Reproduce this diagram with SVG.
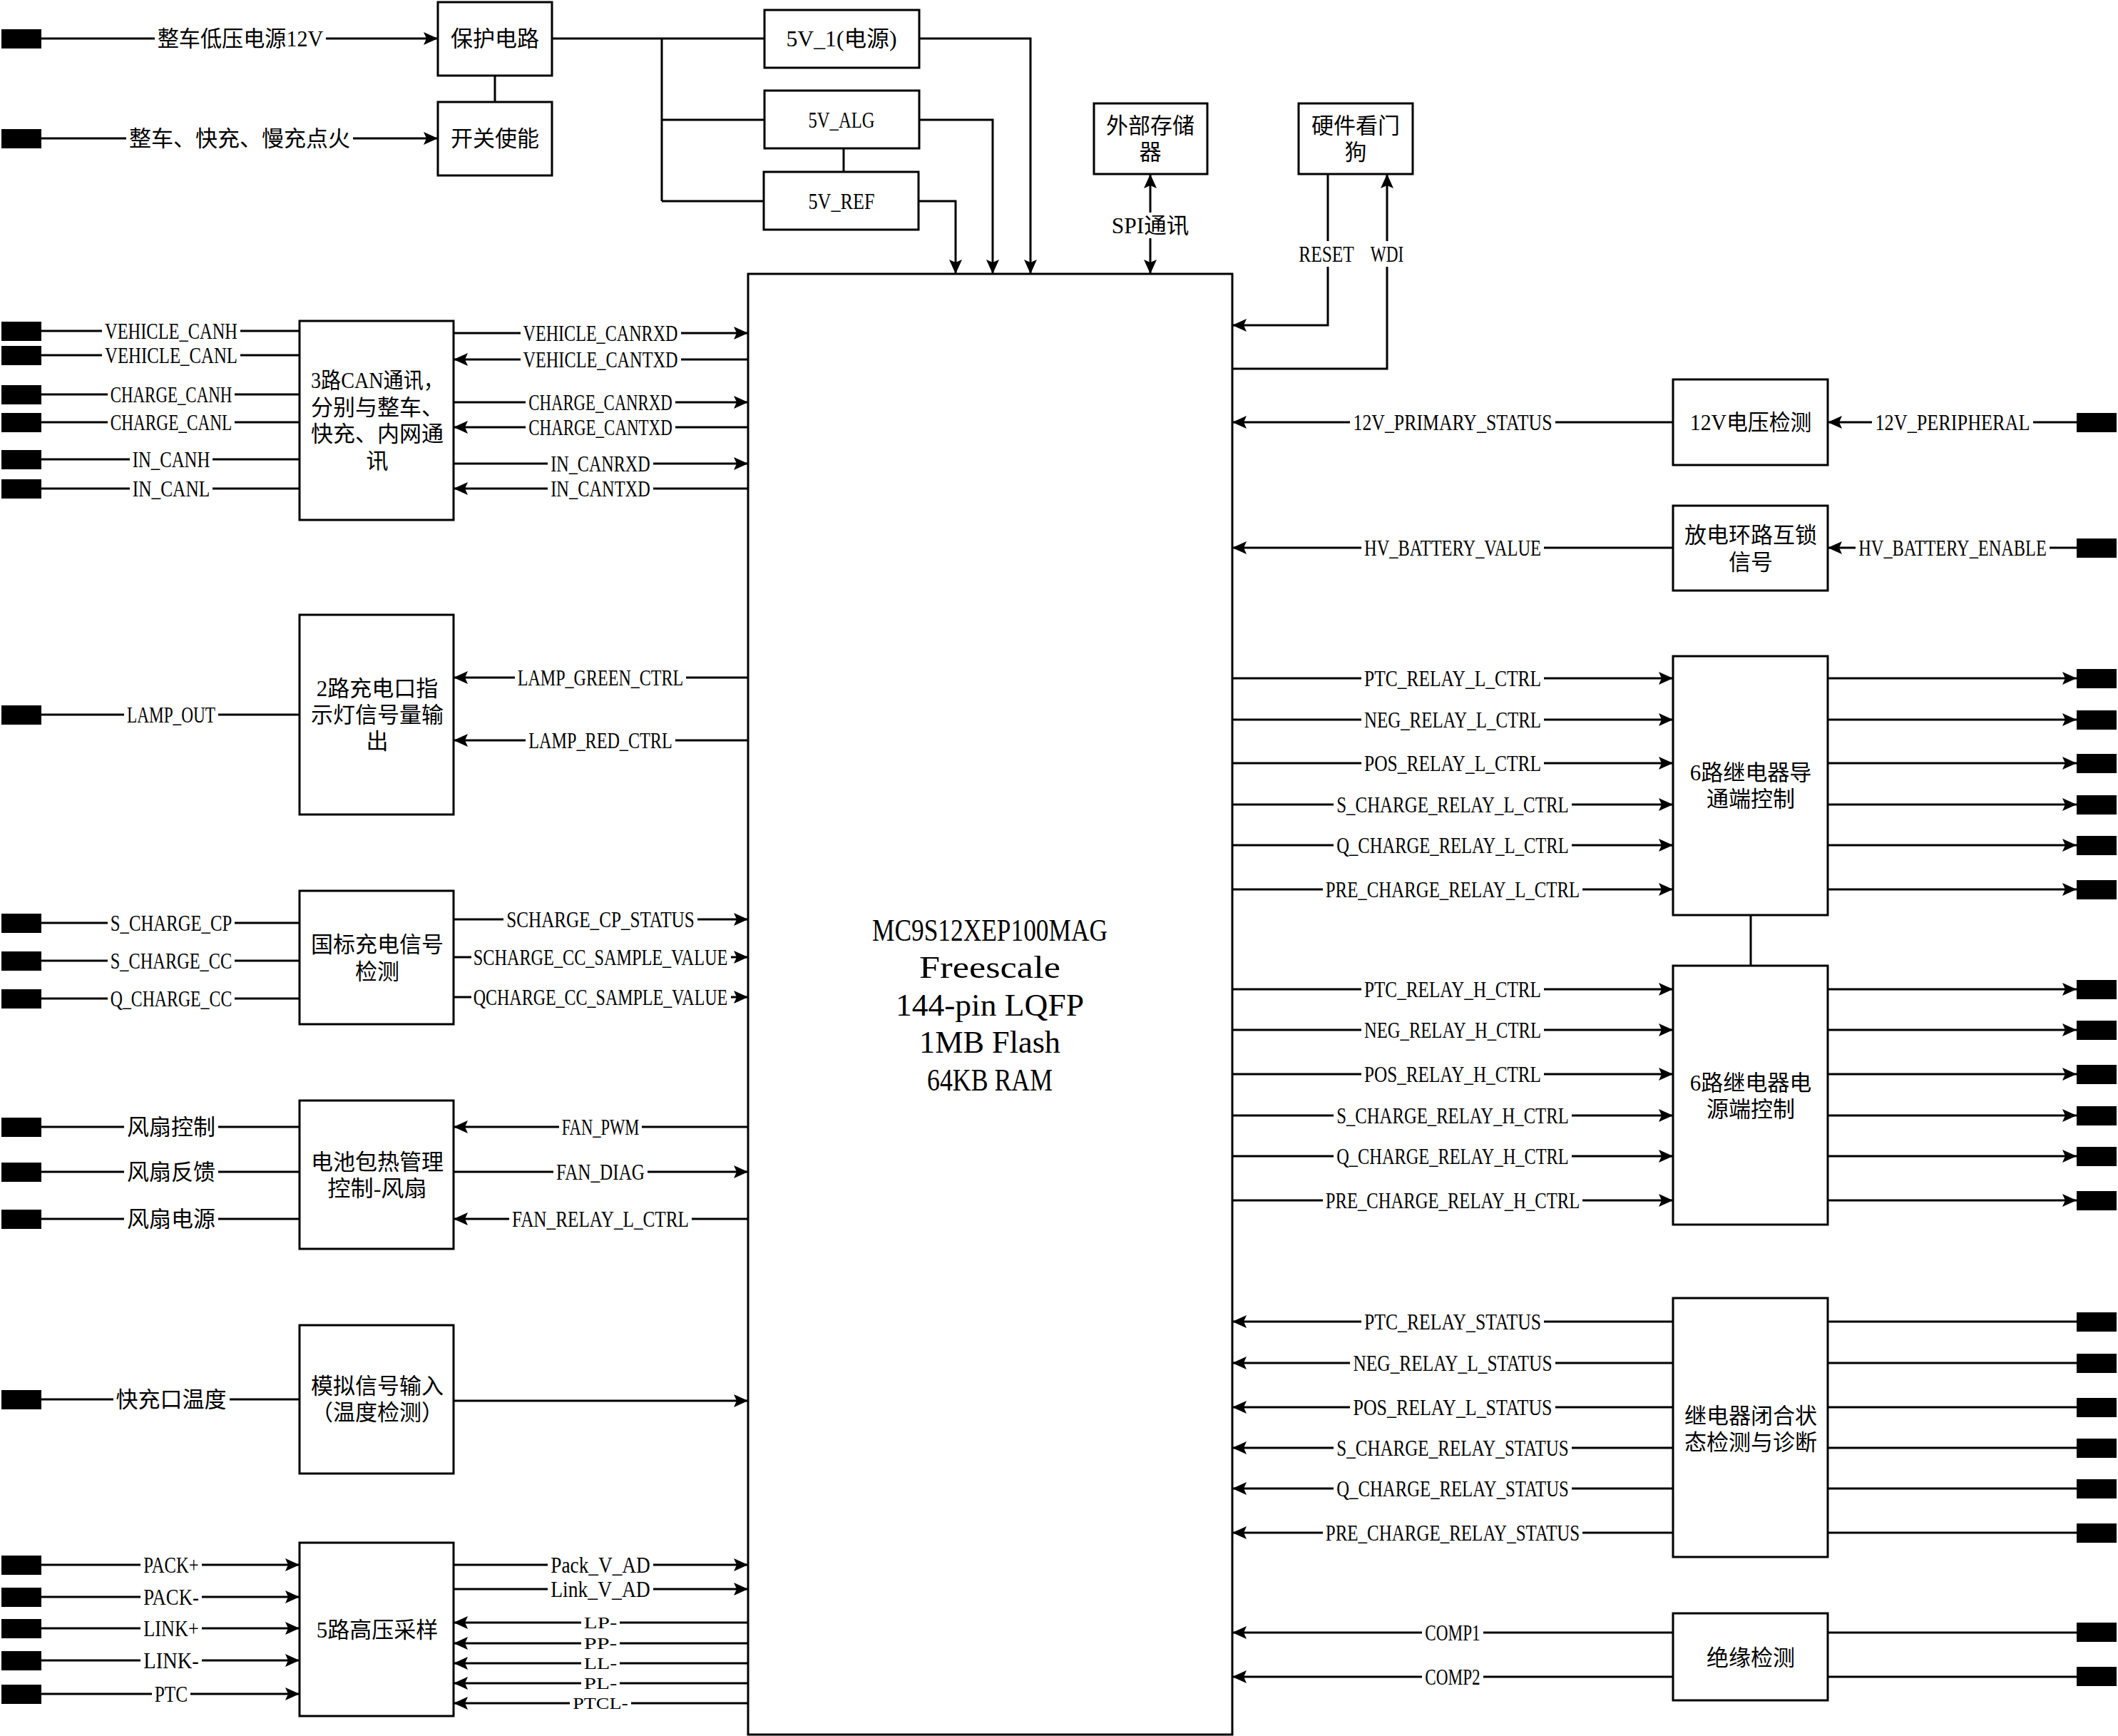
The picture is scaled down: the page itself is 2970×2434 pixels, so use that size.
<svg xmlns="http://www.w3.org/2000/svg" width="2970" height="2434" viewBox="0 0 2970 2434">
<style>
.ln{fill:none;stroke:#000;stroke-width:3}
.ea{marker-end:url(#a)}
.da{marker-start:url(#a);marker-end:url(#a)}
.bx{fill:#fff;stroke:#000;stroke-width:3}
.tm{fill:#000}
.lb{fill:#fff}
.t{font-family:"Liberation Serif","Noto Sans CJK SC",serif;font-size:31px;fill:#000;text-anchor:middle;dominant-baseline:central}
.sm{font-size:24px}
.big{font-family:"Liberation Serif","Noto Sans CJK SC",serif;font-size:44px;fill:#000;text-anchor:middle;dominant-baseline:central}
</style>
<defs>
<marker id="a" markerWidth="20" markerHeight="18" refX="20" refY="9" orient="auto-start-reverse" markerUnits="userSpaceOnUse"><path d="M0,0 L20,9 L0,18 L4,9 z" fill="#000"/></marker>
</defs>
<rect width="2970" height="2434" fill="#fff"/>

<g id="nodes">
<g id="mcu"><rect class="bx" x="1049" y="384" width="679" height="2048"/>
<text class="big" x="1388" y="1304" textLength="330" lengthAdjust="spacingAndGlyphs">MC9S12XEP100MAG</text>
<text class="big" x="1388" y="1356" textLength="198" lengthAdjust="spacingAndGlyphs">Freescale</text>
<text class="big" x="1388" y="1409" textLength="264" lengthAdjust="spacingAndGlyphs">144-pin LQFP</text>
<text class="big" x="1388" y="1461" textLength="198" lengthAdjust="spacingAndGlyphs">1MB Flash</text>
<text class="big" x="1388" y="1514" textLength="176" lengthAdjust="spacingAndGlyphs">64KB RAM</text></g>
<g id="protect"><rect class="bx" x="614" y="3" width="160" height="103"/><text class="t" x="694" y="54" textLength="124" lengthAdjust="spacingAndGlyphs">保护电路</text></g>
<g id="switch"><rect class="bx" x="614" y="143" width="160" height="103"/><text class="t" x="694" y="194" textLength="124" lengthAdjust="spacingAndGlyphs">开关使能</text></g>
<g id="v5_1"><rect class="bx" x="1072" y="14" width="217" height="81"/><text class="t" x="1180" y="54" textLength="155" lengthAdjust="spacingAndGlyphs">5V_1(电源)</text></g>
<g id="v5_alg"><rect class="bx" x="1072" y="127" width="217" height="81"/><text class="t" x="1180" y="168" textLength="93" lengthAdjust="spacingAndGlyphs">5V_ALG</text></g>
<g id="v5_ref"><rect class="bx" x="1071" y="241" width="217" height="81"/><text class="t" x="1180" y="282" textLength="93" lengthAdjust="spacingAndGlyphs">5V_REF</text></g>
<g id="extmem"><rect class="bx" x="1534" y="145" width="159" height="99"/><text class="t" x="1613" y="176" textLength="124" lengthAdjust="spacingAndGlyphs">外部存储</text><text class="t" x="1613" y="213" textLength="31" lengthAdjust="spacingAndGlyphs">器</text></g>
<g id="wdog"><rect class="bx" x="1821" y="145" width="160" height="99"/><text class="t" x="1901" y="176" textLength="124" lengthAdjust="spacingAndGlyphs">硬件看门</text><text class="t" x="1901" y="213" textLength="31" lengthAdjust="spacingAndGlyphs">狗</text></g>
<g id="can"><rect class="bx" x="420" y="450" width="216" height="279"/>
<text class="t" x="529" y="533" textLength="186" lengthAdjust="spacingAndGlyphs">3路CAN通讯，</text>
<text class="t" x="529" y="571" textLength="186" lengthAdjust="spacingAndGlyphs">分别与整车、</text>
<text class="t" x="529" y="608" textLength="186" lengthAdjust="spacingAndGlyphs">快充、内网通</text>
<text class="t" x="529" y="646" textLength="31" lengthAdjust="spacingAndGlyphs">讯</text></g>
<g id="lamp"><rect class="bx" x="420" y="862" width="216" height="280"/>
<text class="t" x="529" y="965" textLength="170.5" lengthAdjust="spacingAndGlyphs">2路充电口指</text>
<text class="t" x="529" y="1002" textLength="186" lengthAdjust="spacingAndGlyphs">示灯信号量输</text>
<text class="t" x="529" y="1039" textLength="31" lengthAdjust="spacingAndGlyphs">出</text></g>
<g id="gb"><rect class="bx" x="420" y="1249" width="216" height="187"/>
<text class="t" x="529" y="1324" textLength="186" lengthAdjust="spacingAndGlyphs">国标充电信号</text>
<text class="t" x="529" y="1362" textLength="62" lengthAdjust="spacingAndGlyphs">检测</text></g>
<g id="fan"><rect class="bx" x="420" y="1543" width="216" height="208"/>
<text class="t" x="529" y="1629" textLength="186" lengthAdjust="spacingAndGlyphs">电池包热管理</text>
<text class="t" x="529" y="1666" textLength="139.5" lengthAdjust="spacingAndGlyphs">控制-风扇</text></g>
<g id="analog"><rect class="bx" x="420" y="1858" width="216" height="208"/>
<text class="t" x="529" y="1943" textLength="186" lengthAdjust="spacingAndGlyphs">模拟信号输入</text>
<text class="t" x="529" y="1980" textLength="186" lengthAdjust="spacingAndGlyphs">（温度检测）</text></g>
<g id="hv"><rect class="bx" x="420" y="2163" width="216" height="243"/>
<text class="t" x="529" y="2285" textLength="170.5" lengthAdjust="spacingAndGlyphs">5路高压采样</text></g>
<g id="v12"><rect class="bx" x="2346" y="532" width="217" height="120"/>
<text class="t" x="2455" y="592" textLength="170.5" lengthAdjust="spacingAndGlyphs">12V电压检测</text></g>
<g id="interlock"><rect class="bx" x="2346" y="709" width="217" height="119"/>
<text class="t" x="2455" y="750" textLength="186" lengthAdjust="spacingAndGlyphs">放电环路互锁</text>
<text class="t" x="2455" y="788" textLength="62" lengthAdjust="spacingAndGlyphs">信号</text></g>
<g id="relayL"><rect class="bx" x="2346" y="920" width="217" height="363"/>
<text class="t" x="2455" y="1083" textLength="170.5" lengthAdjust="spacingAndGlyphs">6路继电器导</text>
<text class="t" x="2455" y="1120" textLength="124" lengthAdjust="spacingAndGlyphs">通端控制</text></g>
<g id="relayH"><rect class="bx" x="2346" y="1354" width="217" height="363"/>
<text class="t" x="2455" y="1518" textLength="170.5" lengthAdjust="spacingAndGlyphs">6路继电器电</text>
<text class="t" x="2455" y="1555" textLength="124" lengthAdjust="spacingAndGlyphs">源端控制</text></g>
<g id="status"><rect class="bx" x="2346" y="1820" width="217" height="363"/>
<text class="t" x="2455" y="1985" textLength="186" lengthAdjust="spacingAndGlyphs">继电器闭合状</text>
<text class="t" x="2455" y="2022" textLength="186" lengthAdjust="spacingAndGlyphs">态检测与诊断</text></g>
<g id="insul"><rect class="bx" x="2346" y="2262" width="217" height="122"/>
<text class="t" x="2455" y="2324" textLength="124" lengthAdjust="spacingAndGlyphs">绝缘检测</text></g>
<g id="terminals">
<rect class="tm" x="2" y="41" width="56" height="27"/>
<rect class="tm" x="2" y="181" width="56" height="27"/>
<rect class="tm" x="2" y="451" width="56" height="27"/>
<rect class="tm" x="2" y="485" width="56" height="27"/>
<rect class="tm" x="2" y="540" width="56" height="27"/>
<rect class="tm" x="2" y="579" width="56" height="27"/>
<rect class="tm" x="2" y="631" width="56" height="27"/>
<rect class="tm" x="2" y="672" width="56" height="27"/>
<rect class="tm" x="2" y="989" width="56" height="27"/>
<rect class="tm" x="2" y="1281" width="56" height="27"/>
<rect class="tm" x="2" y="1334" width="56" height="27"/>
<rect class="tm" x="2" y="1387" width="56" height="27"/>
<rect class="tm" x="2" y="1567" width="56" height="27"/>
<rect class="tm" x="2" y="1630" width="56" height="27"/>
<rect class="tm" x="2" y="1696" width="56" height="27"/>
<rect class="tm" x="2" y="1949" width="56" height="27"/>
<rect class="tm" x="2" y="2181" width="56" height="27"/>
<rect class="tm" x="2" y="2226" width="56" height="27"/>
<rect class="tm" x="2" y="2270" width="56" height="27"/>
<rect class="tm" x="2" y="2315" width="56" height="27"/>
<rect class="tm" x="2" y="2362" width="56" height="27"/>
<rect class="tm" x="2912" y="579" width="56" height="27"/>
<rect class="tm" x="2912" y="755" width="56" height="27"/>
<rect class="tm" x="2912" y="938" width="56" height="27"/>
<rect class="tm" x="2912" y="996" width="56" height="27"/>
<rect class="tm" x="2912" y="1057" width="56" height="27"/>
<rect class="tm" x="2912" y="1115" width="56" height="27"/>
<rect class="tm" x="2912" y="1172" width="56" height="27"/>
<rect class="tm" x="2912" y="1234" width="56" height="27"/>
<rect class="tm" x="2912" y="1374" width="56" height="27"/>
<rect class="tm" x="2912" y="1431" width="56" height="27"/>
<rect class="tm" x="2912" y="1493" width="56" height="27"/>
<rect class="tm" x="2912" y="1551" width="56" height="27"/>
<rect class="tm" x="2912" y="1608" width="56" height="27"/>
<rect class="tm" x="2912" y="1670" width="56" height="27"/>
<rect class="tm" x="2912" y="1840" width="56" height="27"/>
<rect class="tm" x="2912" y="1898" width="56" height="27"/>
<rect class="tm" x="2912" y="1960" width="56" height="27"/>
<rect class="tm" x="2912" y="2017" width="56" height="27"/>
<rect class="tm" x="2912" y="2074" width="56" height="27"/>
<rect class="tm" x="2912" y="2136" width="56" height="27"/>
<rect class="tm" x="2912" y="2275" width="56" height="27"/>
<rect class="tm" x="2912" y="2337" width="56" height="27"/>
</g>
</g>

<g id="connectors">
<path class="ln ea" d="M58,54 H614"/>
<path class="ln ea" d="M58,194 H614"/>
<path class="ln" d="M694,106 V143"/>
<path class="ln" d="M774,54 H1072 M928,54 V282 M928,168 H1072 M928,282 H1071"/>
<path class="ln" d="M1183,208 V241"/>
<path class="ln ea" d="M1289,54 H1445 V384"/>
<path class="ln ea" d="M1289,168 H1392 V384"/>
<path class="ln ea" d="M1288,282 H1340 V384"/>
<path class="ln da" d="M1613,244 V384"/>
<path class="ln ea" d="M1862,244 V456 H1728"/>
<path class="ln ea" d="M1728,517 H1945 V244"/>
<path class="ln" d="M58,464 H420 M58,498 H420 M58,553 H420 M58,592 H420 M58,644 H420 M58,685 H420 M58,1002 H420 M58,1294 H420 M58,1347 H420 M58,1400 H420 M58,1580 H420 M58,1643 H420 M58,1709 H420 M58,1962 H420"/>
<path class="ln ea" d="M58,2194 H420"/>
<path class="ln ea" d="M58,2239 H420"/>
<path class="ln ea" d="M58,2283 H420"/>
<path class="ln ea" d="M58,2328 H420"/>
<path class="ln ea" d="M58,2375 H420"/>
<path class="ln ea" d="M636,467 H1049"/>
<path class="ln ea" d="M1049,504 H636"/>
<path class="ln ea" d="M636,564 H1049"/>
<path class="ln ea" d="M1049,599 H636"/>
<path class="ln ea" d="M636,650 H1049"/>
<path class="ln ea" d="M1049,685 H636"/>
<path class="ln ea" d="M1049,950 H636"/>
<path class="ln ea" d="M1049,1038 H636"/>
<path class="ln ea" d="M636,1289 H1049"/>
<path class="ln ea" d="M636,1342 H1049"/>
<path class="ln ea" d="M636,1398 H1049"/>
<path class="ln ea" d="M1049,1580 H636"/>
<path class="ln ea" d="M636,1643 H1049"/>
<path class="ln ea" d="M1049,1709 H636"/>
<path class="ln ea" d="M636,1964 H1049"/>
<path class="ln ea" d="M636,2194 H1049"/>
<path class="ln ea" d="M636,2228 H1049"/>
<path class="ln ea" d="M1049,2275 H636"/>
<path class="ln ea" d="M1049,2304 H636"/>
<path class="ln ea" d="M1049,2332 H636"/>
<path class="ln ea" d="M1049,2360 H636"/>
<path class="ln ea" d="M1049,2388 H636"/>
<path class="ln ea" d="M2346,592 H1728"/>
<path class="ln ea" d="M2346,768 H1728"/>
<path class="ln ea" d="M2912,592 H2563"/>
<path class="ln ea" d="M2912,768 H2563"/>
<path class="ln ea" d="M1728,951 H2346"/>
<path class="ln ea" d="M1728,1009 H2346"/>
<path class="ln ea" d="M1728,1070 H2346"/>
<path class="ln ea" d="M1728,1128 H2346"/>
<path class="ln ea" d="M1728,1185 H2346"/>
<path class="ln ea" d="M1728,1247 H2346"/>
<path class="ln ea" d="M2563,951 H2912"/>
<path class="ln ea" d="M2563,1009 H2912"/>
<path class="ln ea" d="M2563,1070 H2912"/>
<path class="ln ea" d="M2563,1128 H2912"/>
<path class="ln ea" d="M2563,1185 H2912"/>
<path class="ln ea" d="M2563,1247 H2912"/>
<path class="ln" d="M2455,1283 V1354"/>
<path class="ln ea" d="M1728,1387 H2346"/>
<path class="ln ea" d="M1728,1444 H2346"/>
<path class="ln ea" d="M1728,1506 H2346"/>
<path class="ln ea" d="M1728,1564 H2346"/>
<path class="ln ea" d="M1728,1621 H2346"/>
<path class="ln ea" d="M1728,1683 H2346"/>
<path class="ln ea" d="M2563,1387 H2912"/>
<path class="ln ea" d="M2563,1444 H2912"/>
<path class="ln ea" d="M2563,1506 H2912"/>
<path class="ln ea" d="M2563,1564 H2912"/>
<path class="ln ea" d="M2563,1621 H2912"/>
<path class="ln ea" d="M2563,1683 H2912"/>
<path class="ln ea" d="M2346,1853 H1728"/>
<path class="ln ea" d="M2346,1911 H1728"/>
<path class="ln ea" d="M2346,1973 H1728"/>
<path class="ln ea" d="M2346,2030 H1728"/>
<path class="ln ea" d="M2346,2087 H1728"/>
<path class="ln ea" d="M2346,2149 H1728"/>
<path class="ln" d="M2563,1853 H2912 M2563,1911 H2912 M2563,1973 H2912 M2563,2030 H2912 M2563,2087 H2912 M2563,2149 H2912"/>
<path class="ln ea" d="M2346,2289 H1728"/>
<path class="ln ea" d="M2346,2351 H1728"/>
<path class="ln" d="M2563,2289 H2912 M2563,2351 H2912"/>

<g id="labels">
<rect class="lb" x="217" y="49" width="240" height="10"/><text class="t" x="337" y="54" textLength="232.5" lengthAdjust="spacingAndGlyphs">整车低压电源12V</text>
<rect class="lb" x="177" y="189" width="318" height="10"/><text class="t" x="336" y="194" textLength="310" lengthAdjust="spacingAndGlyphs">整车、快充、慢充点火</text>
<rect class="lb" x="1555" y="298" width="116" height="36"/><text class="t" x="1613" y="316" textLength="108.5" lengthAdjust="spacingAndGlyphs">SPI通讯</text>
<rect class="lb" x="1818" y="338" width="84" height="36"/><text class="t" x="1860" y="356" textLength="77.5" lengthAdjust="spacingAndGlyphs">RESET</text>
<rect class="lb" x="1918" y="338" width="54" height="36"/><text class="t" x="1945" y="356" textLength="46.5" lengthAdjust="spacingAndGlyphs">WDI</text>

<rect class="lb" x="143" y="459" width="194" height="10"/><text class="t" x="240" y="464" textLength="186" lengthAdjust="spacingAndGlyphs">VEHICLE_CANH</text>
<rect class="lb" x="143" y="493" width="194" height="10"/><text class="t" x="240" y="498" textLength="186" lengthAdjust="spacingAndGlyphs">VEHICLE_CANL</text>
<rect class="lb" x="151" y="548" width="178" height="10"/><text class="t" x="240" y="553" textLength="170.5" lengthAdjust="spacingAndGlyphs">CHARGE_CANH</text>
<rect class="lb" x="151" y="587" width="178" height="10"/><text class="t" x="240" y="592" textLength="170.5" lengthAdjust="spacingAndGlyphs">CHARGE_CANL</text>
<rect class="lb" x="182" y="639" width="116" height="10"/><text class="t" x="240" y="644" textLength="108.5" lengthAdjust="spacingAndGlyphs">IN_CANH</text>
<rect class="lb" x="182" y="680" width="116" height="10"/><text class="t" x="240" y="685" textLength="108.5" lengthAdjust="spacingAndGlyphs">IN_CANL</text>
<rect class="lb" x="174" y="997" width="132" height="10"/><text class="t" x="240" y="1002" textLength="124" lengthAdjust="spacingAndGlyphs">LAMP_OUT</text>
<rect class="lb" x="151" y="1289" width="178" height="10"/><text class="t" x="240" y="1294" textLength="170.5" lengthAdjust="spacingAndGlyphs">S_CHARGE_CP</text>
<rect class="lb" x="151" y="1342" width="178" height="10"/><text class="t" x="240" y="1347" textLength="170.5" lengthAdjust="spacingAndGlyphs">S_CHARGE_CC</text>
<rect class="lb" x="151" y="1395" width="178" height="10"/><text class="t" x="240" y="1400" textLength="170.5" lengthAdjust="spacingAndGlyphs">Q_CHARGE_CC</text>
<rect class="lb" x="174" y="1575" width="132" height="10"/><text class="t" x="240" y="1580" textLength="124" lengthAdjust="spacingAndGlyphs">风扇控制</text>
<rect class="lb" x="174" y="1638" width="132" height="10"/><text class="t" x="240" y="1643" textLength="124" lengthAdjust="spacingAndGlyphs">风扇反馈</text>
<rect class="lb" x="174" y="1704" width="132" height="10"/><text class="t" x="240" y="1709" textLength="124" lengthAdjust="spacingAndGlyphs">风扇电源</text>
<rect class="lb" x="159" y="1957" width="163" height="10"/><text class="t" x="240" y="1962" textLength="155" lengthAdjust="spacingAndGlyphs">快充口温度</text>
<rect class="lb" x="197" y="2189" width="86" height="10"/><text class="t" x="240" y="2194" textLength="77.5" lengthAdjust="spacingAndGlyphs">PACK+</text>
<rect class="lb" x="197" y="2234" width="86" height="10"/><text class="t" x="240" y="2239" textLength="77.5" lengthAdjust="spacingAndGlyphs">PACK-</text>
<rect class="lb" x="197" y="2278" width="86" height="10"/><text class="t" x="240" y="2283" textLength="77.5" lengthAdjust="spacingAndGlyphs">LINK+</text>
<rect class="lb" x="197" y="2323" width="86" height="10"/><text class="t" x="240" y="2328" textLength="77.5" lengthAdjust="spacingAndGlyphs">LINK-</text>
<rect class="lb" x="213" y="2370" width="54" height="10"/><text class="t" x="240" y="2375" textLength="46.5" lengthAdjust="spacingAndGlyphs">PTC</text>

<rect class="lb" x="730" y="462" width="225" height="10"/><text class="t" x="842" y="467" textLength="217" lengthAdjust="spacingAndGlyphs">VEHICLE_CANRXD</text>
<rect class="lb" x="730" y="499" width="225" height="10"/><text class="t" x="842" y="504" textLength="217" lengthAdjust="spacingAndGlyphs">VEHICLE_CANTXD</text>
<rect class="lb" x="737" y="559" width="210" height="10"/><text class="t" x="842" y="564" textLength="201.5" lengthAdjust="spacingAndGlyphs">CHARGE_CANRXD</text>
<rect class="lb" x="737" y="594" width="210" height="10"/><text class="t" x="842" y="599" textLength="201.5" lengthAdjust="spacingAndGlyphs">CHARGE_CANTXD</text>
<rect class="lb" x="768" y="645" width="148" height="10"/><text class="t" x="842" y="650" textLength="139.5" lengthAdjust="spacingAndGlyphs">IN_CANRXD</text>
<rect class="lb" x="768" y="680" width="148" height="10"/><text class="t" x="842" y="685" textLength="139.5" lengthAdjust="spacingAndGlyphs">IN_CANTXD</text>
<rect class="lb" x="722" y="945" width="240" height="10"/><text class="t" x="842" y="950" textLength="232.5" lengthAdjust="spacingAndGlyphs">LAMP_GREEN_CTRL</text>
<rect class="lb" x="737" y="1033" width="210" height="10"/><text class="t" x="842" y="1038" textLength="201.5" lengthAdjust="spacingAndGlyphs">LAMP_RED_CTRL</text>
<rect class="lb" x="706" y="1284" width="272" height="10"/><text class="t" x="842" y="1289" textLength="263.5" lengthAdjust="spacingAndGlyphs">SCHARGE_CP_STATUS</text>
<rect class="lb" x="661" y="1337" width="364" height="10"/><text class="t" x="842" y="1342" textLength="356.5" lengthAdjust="spacingAndGlyphs">SCHARGE_CC_SAMPLE_VALUE</text>
<rect class="lb" x="661" y="1393" width="364" height="10"/><text class="t" x="842" y="1398" textLength="356.5" lengthAdjust="spacingAndGlyphs">QCHARGE_CC_SAMPLE_VALUE</text>
<rect class="lb" x="784" y="1575" width="116" height="10"/><text class="t" x="842" y="1580" textLength="108.5" lengthAdjust="spacingAndGlyphs">FAN_PWM</text>
<rect class="lb" x="776" y="1638" width="132" height="10"/><text class="t" x="842" y="1643" textLength="124" lengthAdjust="spacingAndGlyphs">FAN_DIAG</text>
<rect class="lb" x="714" y="1704" width="256" height="10"/><text class="t" x="842" y="1709" textLength="248" lengthAdjust="spacingAndGlyphs">FAN_RELAY_L_CTRL</text>
<rect class="lb" x="768" y="2189" width="148" height="10"/><text class="t" x="842" y="2194" textLength="139.5" lengthAdjust="spacingAndGlyphs">Pack_V_AD</text>
<rect class="lb" x="768" y="2223" width="148" height="10"/><text class="t" x="842" y="2228" textLength="139.5" lengthAdjust="spacingAndGlyphs">Link_V_AD</text>
<rect class="lb" x="815" y="2270" width="54" height="10"/><text class="t sm" x="842" y="2275" textLength="46.5" lengthAdjust="spacingAndGlyphs">LP-</text>
<rect class="lb" x="815" y="2299" width="54" height="10"/><text class="t sm" x="842" y="2304" textLength="46.5" lengthAdjust="spacingAndGlyphs">PP-</text>
<rect class="lb" x="815" y="2327" width="54" height="10"/><text class="t sm" x="842" y="2332" textLength="46.5" lengthAdjust="spacingAndGlyphs">LL-</text>
<rect class="lb" x="815" y="2355" width="54" height="10"/><text class="t sm" x="842" y="2360" textLength="46.5" lengthAdjust="spacingAndGlyphs">PL-</text>
<rect class="lb" x="799" y="2383" width="86" height="10"/><text class="t sm" x="842" y="2388" textLength="77.5" lengthAdjust="spacingAndGlyphs">PTCL-</text>

<rect class="lb" x="1893" y="587" width="288" height="10"/><text class="t" x="2037" y="592" textLength="279" lengthAdjust="spacingAndGlyphs">12V_PRIMARY_STATUS</text>
<rect class="lb" x="1909" y="763" width="256" height="10"/><text class="t" x="2037" y="768" textLength="248" lengthAdjust="spacingAndGlyphs">HV_BATTERY_VALUE</text>
<rect class="lb" x="2625" y="587" width="226" height="10"/><text class="t" x="2738" y="592" textLength="217" lengthAdjust="spacingAndGlyphs">12V_PERIPHERAL</text>
<rect class="lb" x="2602" y="763" width="272" height="10"/><text class="t" x="2738" y="768" textLength="263.5" lengthAdjust="spacingAndGlyphs">HV_BATTERY_ENABLE</text>

<rect class="lb" x="1909" y="946" width="256" height="10"/><text class="t" x="2037" y="951" textLength="248" lengthAdjust="spacingAndGlyphs">PTC_RELAY_L_CTRL</text>
<rect class="lb" x="1909" y="1004" width="256" height="10"/><text class="t" x="2037" y="1009" textLength="248" lengthAdjust="spacingAndGlyphs">NEG_RELAY_L_CTRL</text>
<rect class="lb" x="1909" y="1065" width="256" height="10"/><text class="t" x="2037" y="1070" textLength="248" lengthAdjust="spacingAndGlyphs">POS_RELAY_L_CTRL</text>
<rect class="lb" x="1870" y="1123" width="334" height="10"/><text class="t" x="2037" y="1128" textLength="325.5" lengthAdjust="spacingAndGlyphs">S_CHARGE_RELAY_L_CTRL</text>
<rect class="lb" x="1870" y="1180" width="334" height="10"/><text class="t" x="2037" y="1185" textLength="325.5" lengthAdjust="spacingAndGlyphs">Q_CHARGE_RELAY_L_CTRL</text>
<rect class="lb" x="1855" y="1242" width="364" height="10"/><text class="t" x="2037" y="1247" textLength="356.5" lengthAdjust="spacingAndGlyphs">PRE_CHARGE_RELAY_L_CTRL</text>

<rect class="lb" x="1909" y="1382" width="256" height="10"/><text class="t" x="2037" y="1387" textLength="248" lengthAdjust="spacingAndGlyphs">PTC_RELAY_H_CTRL</text>
<rect class="lb" x="1909" y="1439" width="256" height="10"/><text class="t" x="2037" y="1444" textLength="248" lengthAdjust="spacingAndGlyphs">NEG_RELAY_H_CTRL</text>
<rect class="lb" x="1909" y="1501" width="256" height="10"/><text class="t" x="2037" y="1506" textLength="248" lengthAdjust="spacingAndGlyphs">POS_RELAY_H_CTRL</text>
<rect class="lb" x="1870" y="1559" width="334" height="10"/><text class="t" x="2037" y="1564" textLength="325.5" lengthAdjust="spacingAndGlyphs">S_CHARGE_RELAY_H_CTRL</text>
<rect class="lb" x="1870" y="1616" width="334" height="10"/><text class="t" x="2037" y="1621" textLength="325.5" lengthAdjust="spacingAndGlyphs">Q_CHARGE_RELAY_H_CTRL</text>
<rect class="lb" x="1855" y="1678" width="364" height="10"/><text class="t" x="2037" y="1683" textLength="356.5" lengthAdjust="spacingAndGlyphs">PRE_CHARGE_RELAY_H_CTRL</text>

<rect class="lb" x="1909" y="1848" width="256" height="10"/><text class="t" x="2037" y="1853" textLength="248" lengthAdjust="spacingAndGlyphs">PTC_RELAY_STATUS</text>
<rect class="lb" x="1893" y="1906" width="288" height="10"/><text class="t" x="2037" y="1911" textLength="279" lengthAdjust="spacingAndGlyphs">NEG_RELAY_L_STATUS</text>
<rect class="lb" x="1893" y="1968" width="288" height="10"/><text class="t" x="2037" y="1973" textLength="279" lengthAdjust="spacingAndGlyphs">POS_RELAY_L_STATUS</text>
<rect class="lb" x="1870" y="2025" width="334" height="10"/><text class="t" x="2037" y="2030" textLength="325.5" lengthAdjust="spacingAndGlyphs">S_CHARGE_RELAY_STATUS</text>
<rect class="lb" x="1870" y="2082" width="334" height="10"/><text class="t" x="2037" y="2087" textLength="325.5" lengthAdjust="spacingAndGlyphs">Q_CHARGE_RELAY_STATUS</text>
<rect class="lb" x="1855" y="2144" width="364" height="10"/><text class="t" x="2037" y="2149" textLength="356.5" lengthAdjust="spacingAndGlyphs">PRE_CHARGE_RELAY_STATUS</text>
<rect class="lb" x="1994" y="2284" width="86" height="10"/><text class="t" x="2037" y="2289" textLength="77.5" lengthAdjust="spacingAndGlyphs">COMP1</text>
<rect class="lb" x="1994" y="2346" width="86" height="10"/><text class="t" x="2037" y="2351" textLength="77.5" lengthAdjust="spacingAndGlyphs">COMP2</text>
</g>
</g>
</svg>
